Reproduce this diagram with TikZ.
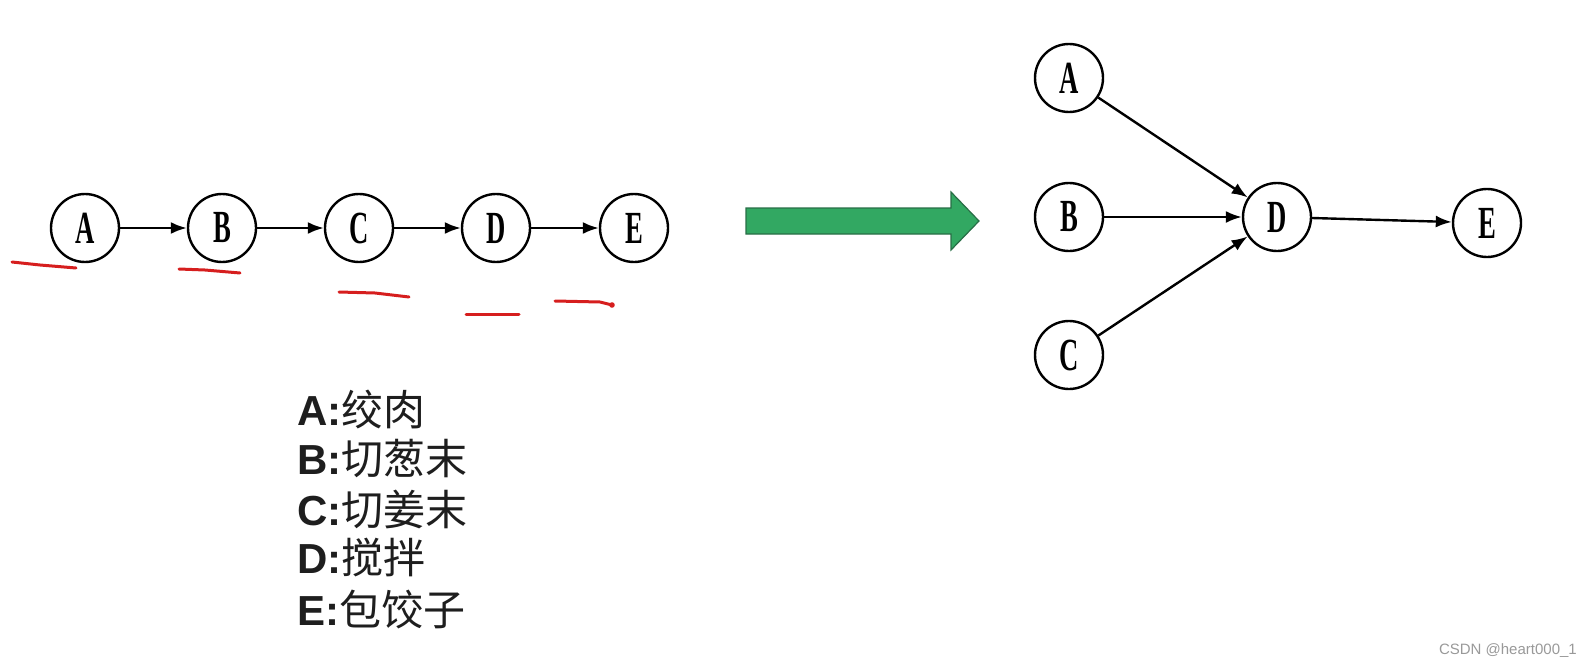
\documentclass[tikz,border=0pt]{standalone}
\usepackage{fontspec}
\usepackage{graphicx}
\setmainfont{Liberation Serif}
\newfontfamily\cjk{Noto Sans CJK SC}
\newfontfamily\lsans{Liberation Sans}
\usetikzlibrary{arrows.meta}
\definecolor{arrowgreen}{RGB}{50,168,98}
\definecolor{arrowgreendark}{RGB}{40,110,70}
\definecolor{redpen}{RGB}{214,30,30}
\definecolor{txt}{RGB}{30,30,30}
\begin{document}
\begin{tikzpicture}[x=1pt,y=-1pt,
  vtx/.style={circle,draw,line width=2.4pt,minimum size=68pt,inner sep=0pt,font=\fontsize{46}{46}\selectfont},
  edge/.style={line width=2.4pt,-{Latex[length=16pt,width=12pt]}},
  redmark/.style={redpen,line width=3pt,line cap=round,line join=round},
  lbl/.style={anchor=west,inner sep=0pt,text=txt,font=\fontsize{42}{42}\selectfont},
  wmark/.style={anchor=east,inner sep=0pt,text=gray!80,font=\lsans\fontsize{15}{15}\selectfont}]
\useasboundingbox (0,0) rectangle (1591,669);
% left chain
\node[vtx] (a1) at (85,228) {\scalebox{0.58}[1]{\bfseries A}};
\node[vtx] (b1) at (222,228) {\scalebox{0.58}[1]{\bfseries B}};
\node[vtx] (c1) at (359,228) {\scalebox{0.58}[1]{\bfseries C}};
\node[vtx] (d1) at (496,228) {\scalebox{0.58}[1]{\bfseries D}};
\node[vtx] (e1) at (634,228) {\scalebox{0.58}[1]{\bfseries E}};
\draw[edge] (a1) -- (b1);
\draw[edge] (b1) -- (c1);
\draw[edge] (c1) -- (d1);
\draw[edge] (d1) -- (e1);
% red underline marks
\draw[redmark] (12,262) -- (40,265) -- (76,268);
\draw[redmark] (179,269) -- (205,270) -- (240,273);
\draw[redmark] (339,292) -- (375,293) -- (409,297);
\draw[redmark] (466,314) -- (519,314);
\draw[redmark] (555,301) -- (600,302) -- (612,305);
\fill[redpen] (612,305) circle (2.8pt);
% legend
\node[lbl] (t1) at (297,409) {{\lsans\bfseries A:}{\cjk 绞肉}};
\node[lbl] (t2) at (297,459) {{\lsans\bfseries B:}{\cjk 切葱末}};
\node[lbl] (t3) at (297,509) {{\lsans\bfseries C:}{\cjk 切姜末}};
\node[lbl] (t4) at (297,558) {{\lsans\bfseries D:}{\cjk 搅拌}};
\node[lbl] (t5) at (297,609) {{\lsans\bfseries E:}{\cjk 包饺子}};
% green arrow
\draw[fill=arrowgreen,draw=arrowgreendark,line width=1.2pt,line join=miter]
  (746,208) -- (951,208) -- (951,192) -- (979,221) -- (951,250) -- (951,234) -- (746,234) -- cycle;
% right graph
\node[vtx] (a2) at (1069,78) {\scalebox{0.58}[1]{\bfseries A}};
\node[vtx] (b2) at (1069,217) {\scalebox{0.58}[1]{\bfseries B}};
\node[vtx] (c2) at (1069,355) {\scalebox{0.58}[1]{\bfseries C}};
\node[vtx] (d2) at (1277,217) {\scalebox{0.58}[1]{\bfseries D}};
\node[vtx] (e2) at (1487,223) {\scalebox{0.58}[1]{\bfseries E}};
\draw[edge] (a2) -- (d2);
\draw[edge] (b2) -- (d2);
\draw[edge] (c2) -- (d2);
\draw[edge] (d2) -- (e2);
% watermark
\node[wmark] (wm) at (1577,651) {CSDN @heart000\_1};
\end{tikzpicture}
\end{document}
